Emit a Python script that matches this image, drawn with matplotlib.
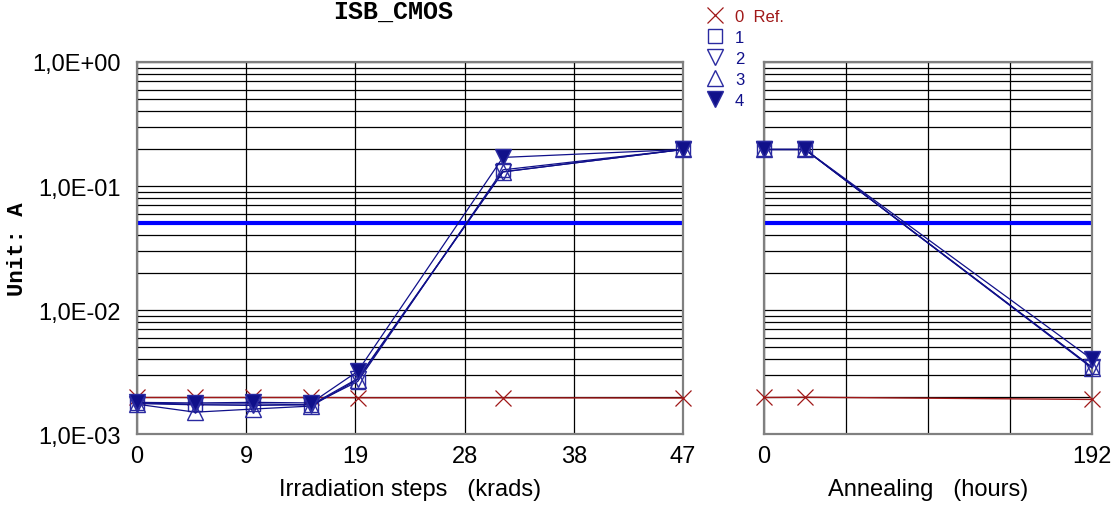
import numpy as np
import matplotlib.pyplot as plt
from matplotlib.lines import Line2D

# -------------------------------
# Data
# -------------------------------
irr_x = [0, 5, 10, 15, 19, 31.5, 47]          # krads
ann_x = [0, 24, 192]                           # hours

ref_irr = [1.97e-3, 1.97e-3, 1.97e-3, 1.97e-3, 1.96e-3, 1.96e-3, 1.95e-3]
ref_ann = [1.97e-3, 1.98e-3, 1.90e-3]

s1_irr = [1.78e-3, 1.74e-3, 1.75e-3, 1.72e-3, 2.65e-3, 0.135, 0.197]
s2_irr = [1.76e-3, 1.72e-3, 1.70e-3, 1.72e-3, 2.80e-3, 0.130, 0.197]
s3_irr = [1.74e-3, 1.50e-3, 1.59e-3, 1.68e-3, 2.75e-3, 0.130, 0.197]
s4_irr = [1.80e-3, 1.78e-3, 1.80e-3, 1.78e-3, 3.20e-3, 0.170, 0.197]

s1_ann = [0.197, 0.197, 3.45e-3]
s2_ann = [0.197, 0.197, 3.45e-3]
s3_ann = [0.197, 0.197, 3.40e-3]
s4_ann = [0.197, 0.197, 4.00e-3]

limit = 0.05
y_ticks = [1e-3, 1e-2, 1e-1, 1e0]
y_labels = ["1,0E-03", "1,0E-02", "1,0E-01", "1,0E+00"]

# -------------------------------
# Styles
# -------------------------------
RED = '#a01818'
NAVY = '#10108a'
EDGE = '#2a2aa0'
series = [
    ('1', dict(marker='s', mfc='none', ms=10)),
    ('2', dict(marker='v', mfc='none', ms=11)),
    ('3', dict(marker='^', mfc='none', ms=11)),
    ('4', dict(marker='v', mfc=NAVY, ms=12)),
]

plt.rcParams['font.family'] = ['Liberation Sans', 'DejaVu Sans']

fig = plt.figure(figsize=(11.18, 5.06), dpi=100)
ax1 = fig.add_axes([0.1225, 0.1403, 0.4884, 0.7352])
ax2 = fig.add_axes([0.6834, 0.1403, 0.2934, 0.7352])


def style_axis(ax, xmax, nticks, labels):
    ax.set_yscale('log')
    ax.set_ylim(1e-3, 1e0)
    ax.set_xlim(0, xmax)
    ax.set_xticks(np.linspace(0, xmax, nticks))
    ax.set_xticklabels(labels, fontsize=17)
    ax.set_yticks(y_ticks)
    ax.set_yticks([m * 10.0**e for e in range(-3, 0) for m in range(2, 10)], minor=True)
    ax.yaxis.set_minor_formatter(plt.NullFormatter())
    ax.grid(True, which='both', axis='y', color='black', lw=0.9)
    ax.grid(True, which='major', axis='x', color='black', lw=0.9)
    ax.tick_params(which='both', length=0)
    ax.tick_params(axis='x', pad=8)
    ax.tick_params(axis='y', pad=12)
    for sp in ax.spines.values():
        sp.set_color('#808080')
        sp.set_linewidth(1.6)
    ax.set_axisbelow(True)
    ax.axhline(limit, color='#0000ff', lw=3, zorder=2)


irr_ticks = np.linspace(0, 47, 6)
style_axis(ax1, 47, 6, [str(int(round(v))) for v in irr_ticks])
ax1.set_yticklabels(y_labels, fontsize=17)

style_axis(ax2, 192, 5, ['0', '', '', '', '192'])
ax2.set_yticklabels([])

# reference sample
for ax, xs, ys in [(ax1, irr_x, ref_irr), (ax2, ann_x, ref_ann)]:
    ax.plot(xs, ys, color=RED, lw=1.0, marker='x', ms=11, mew=0.9,
            clip_on=False, zorder=3)

# irradiated samples
irr_data = [s1_irr, s2_irr, s3_irr, s4_irr]
ann_data = [s1_ann, s2_ann, s3_ann, s4_ann]
for (name, kw), yi, ya in zip(series, irr_data, ann_data):
    ax1.plot(irr_x, yi, color=NAVY, lw=0.9, mec=EDGE, mew=1.0,
             clip_on=False, zorder=4, **kw)
    ax2.plot(ann_x, ya, color=NAVY, lw=0.9, mec=EDGE, mew=1.0,
             clip_on=False, zorder=4, **kw)

ax1.set_ylabel('Unit: A', fontsize=16, fontweight='bold',
               family='Liberation Mono')
ax1.yaxis.set_label_coords(-0.200, 0.5)
ax1.set_xlabel('Irradiation steps   (krads)', fontsize=17, labelpad=8)
ax2.set_xlabel('Annealing   (hours)', fontsize=17, labelpad=8)

fig.text(0.352, 1.0, 'ISB_CMOS', fontsize=18, fontweight='bold',
         family='Liberation Mono', ha='center', va='top')

# legend
handles = [Line2D([], [], ls='none', marker='x', color=RED, ms=11, mew=0.9)]
labels = ['0  Ref.']
for name, kw in series:
    handles.append(Line2D([], [], ls='none', color=NAVY, mec=EDGE, mew=1.0, **kw))
    labels.append(name)
leg = fig.legend(handles, labels, loc='upper left', bbox_to_anchor=(0.626, 0.993),
                 frameon=False, fontsize=12, handlelength=1.0, handletextpad=0.7,
                 labelspacing=0.36, borderaxespad=0)
for t, c in zip(leg.get_texts(), [RED, NAVY, NAVY, NAVY, NAVY]):
    t.set_color(c)

fig.savefig('out.png', dpi=100)
